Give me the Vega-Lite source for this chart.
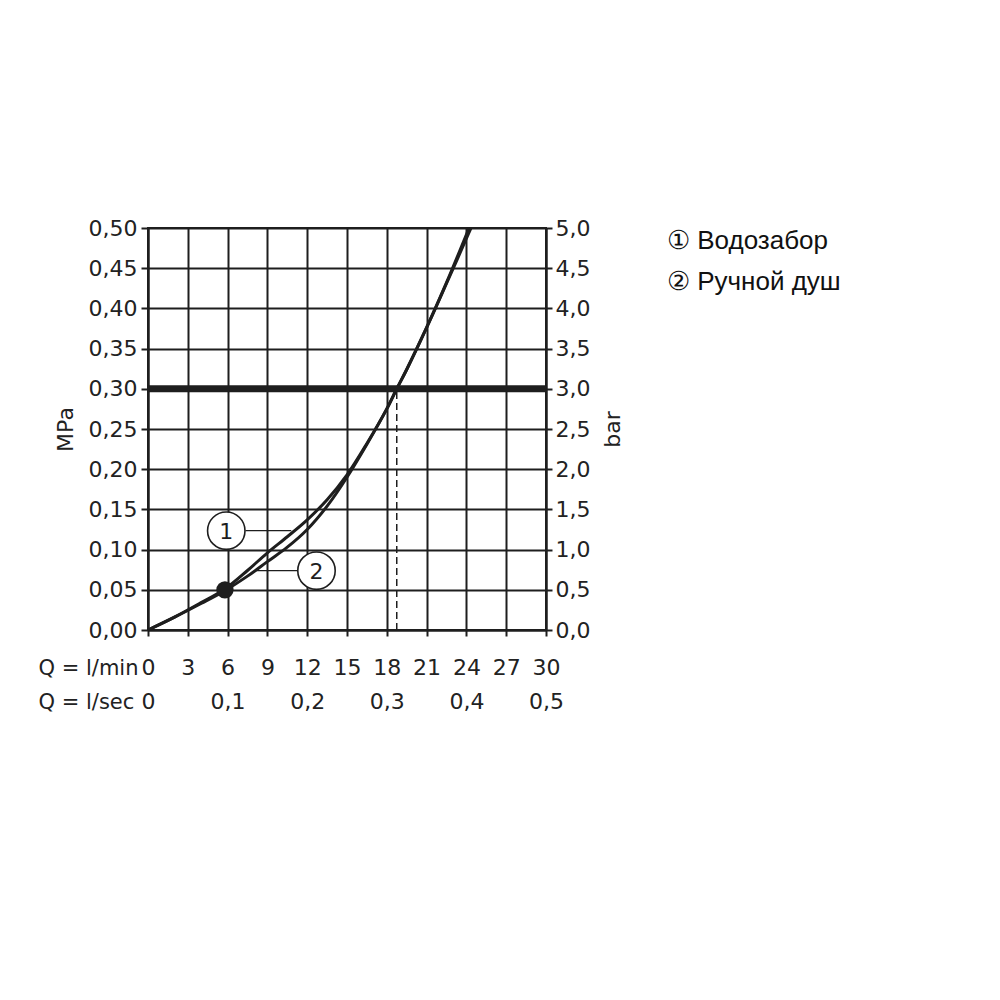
{
  "$schema": "https://vega.github.io/schema/vega-lite/v6.json",
  "width": 398,
  "height": 402,
  "autosize": {"type": "none"},
  "padding": {"left": 148, "top": 228, "right": 454, "bottom": 370},
  "background": "white",
  "config": {
    "view": {"stroke": "#1e1e1e", "strokeWidth": 2},
    "axis": {
      "domainColor": "#1e1e1e", "domainWidth": 2,
      "tickColor": "#1e1e1e", "tickWidth": 2,
      "gridColor": "#1e1e1e", "gridWidth": 2, "gridOpacity": 1,
      "labelFont": "DejaVu Sans", "labelFontSize": 22, "labelColor": "#222",
      "labelOverlap": false, "labelFlush": false,
      "titleFont": "DejaVu Sans", "titleFontSize": 22, "titleFontWeight": "normal", "titleColor": "#222"
    },
    "legend": {"padding": 0}
  },
  "resolve": {"axis": {"y": "independent"}},
  "layer": [
    {
      "layer": [
        {
          "data": {"values": [
            {"q": 0, "p": 0, "series": "① Водозабор"},
            {"q": 2, "p": 0.016, "series": "① Водозабор"},
            {"q": 4, "p": 0.034, "series": "① Водозабор"},
            {"q": 5.8, "p": 0.051, "series": "① Водозабор"},
            {"q": 7.5, "p": 0.074, "series": "① Водозабор"},
            {"q": 9, "p": 0.096, "series": "① Водозабор"},
            {"q": 10.5, "p": 0.116, "series": "① Водозабор"},
            {"q": 12, "p": 0.137, "series": "① Водозабор"},
            {"q": 13.5, "p": 0.162, "series": "① Водозабор"},
            {"q": 15, "p": 0.193, "series": "① Водозабор"},
            {"q": 16.5, "p": 0.232, "series": "① Водозабор"},
            {"q": 18, "p": 0.275, "series": "① Водозабор"},
            {"q": 18.75, "p": 0.3, "series": "① Водозабор"},
            {"q": 19.5, "p": 0.324, "series": "① Водозабор"},
            {"q": 21, "p": 0.376, "series": "① Водозабор"},
            {"q": 22.5, "p": 0.432, "series": "① Водозабор"},
            {"q": 24.2, "p": 0.5, "series": "① Водозабор"},
            {"q": 0, "p": 0, "series": "② Ручной душ"},
            {"q": 2, "p": 0.016, "series": "② Ручной душ"},
            {"q": 4, "p": 0.033, "series": "② Ручной душ"},
            {"q": 5.8, "p": 0.049, "series": "② Ручной душ"},
            {"q": 7.5, "p": 0.067, "series": "② Ручной душ"},
            {"q": 9, "p": 0.085, "series": "② Ручной душ"},
            {"q": 10.5, "p": 0.103, "series": "② Ручной душ"},
            {"q": 12, "p": 0.125, "series": "② Ручной душ"},
            {"q": 13.5, "p": 0.154, "series": "② Ручной душ"},
            {"q": 15, "p": 0.19, "series": "② Ручной душ"},
            {"q": 16.5, "p": 0.231, "series": "② Ручной душ"},
            {"q": 18, "p": 0.275, "series": "② Ручной душ"},
            {"q": 18.75, "p": 0.3, "series": "② Ручной душ"},
            {"q": 19.5, "p": 0.324, "series": "② Ручной душ"},
            {"q": 21, "p": 0.376, "series": "② Ручной душ"},
            {"q": 22.5, "p": 0.431, "series": "② Ручной душ"},
            {"q": 24.35, "p": 0.5, "series": "② Ручной душ"}
          ]},
          "mark": {"type": "line", "interpolate": "catmull-rom", "strokeWidth": 3},
          "encoding": {
            "x": {
              "field": "q", "type": "quantitative",
              "scale": {"domain": [0, 30], "nice": false, "zero": true},
              "axis": {
                "orient": "bottom",
                "values": [0, 3, 6, 9, 12, 15, 18, 21, 24, 27, 30],
                "tickCount": 30,
                "labelExpr": "[format(datum.value, 'd'), datum.value == 0 ? '0' : (datum.value % 6 == 0 ? replace(format(datum.value / 60, '.1f'), '.', ',') : '')]",
                "labelLineHeight": 34,
                "grid": true, "tickSize": 6, "labelPadding": 21,
                "title": ["Q = l/min", "Q = l/sec"], "titleLineHeight": 34, "titleFontSize": 21,
                "titleAngle": 0, "titleAlign": "left",
                "titleBaseline": "top", "titleX": -110, "titleY": 27
              }
            },
            "y": {
              "field": "p", "type": "quantitative",
              "scale": {"domain": [0, 0.5], "nice": false, "zero": true},
              "axis": {
                "orient": "left",
                "values": [0, 0.05, 0.1, 0.15, 0.2, 0.25, 0.3, 0.35, 0.4, 0.45, 0.5],
                "tickCount": 30,
                "labelExpr": "replace(format(datum.value, '.2f'), '.', ',')",
                "grid": true, "tickSize": 7, "labelPadding": 4,
                "title": "MPa", "titleAngle": -90, "titleAlign": "center",
                "titleBaseline": "middle", "titleX": -83, "titleY": 201
              }
            },
            "color": {
              "field": "series", "type": "nominal",
              "scale": {"range": ["#1e1e1e", "#1e1e1e"]},
              "legend": {
                "orient": "none", "legendX": 493, "legendY": 0, "title": null,
                "labelFont": "Liberation Sans", "labelFontSize": 26, "labelColor": "#111",
                "labelLimit": 400,
                "symbolSize": 0, "symbolOpacity": 0, "symbolStrokeWidth": 0,
                "labelOffset": 0, "rowPadding": 15
              }
            }
          }
        },
        {
          "data": {"values": [{"p": 0.3}]},
          "mark": {"type": "rule", "strokeWidth": 7, "color": "#1e1e1e"},
          "encoding": {"y": {"field": "p", "type": "quantitative"}}
        },
        {
          "data": {"values": [{"q": 18.75, "p0": 0, "p": 0.3}]},
          "mark": {"type": "rule", "strokeWidth": 1.5, "strokeDash": [7, 4], "color": "#1e1e1e"},
          "encoding": {
            "x": {"field": "q", "type": "quantitative"},
            "y": {"field": "p0", "type": "quantitative"},
            "y2": {"field": "p"}
          }
        },
        {
          "data": {"values": [{"q": 5.8, "p": 0.05}]},
          "mark": {"type": "point", "filled": true, "size": 300, "opacity": 1, "color": "#1e1e1e"},
          "encoding": {
            "x": {"field": "q", "type": "quantitative"},
            "y": {"field": "p", "type": "quantitative"}
          }
        },
        {
          "data": {"values": [
            {"n": "1", "q": 5.9, "p": 0.1235, "q1": 7.35, "q2": 10.8},
            {"n": "2", "q": 12.7, "p": 0.0738, "q1": 8.1, "q2": 11.27}
          ]},
          "layer": [
            {
              "mark": {"type": "rule", "strokeWidth": 1.3, "color": "#1e1e1e"},
              "encoding": {
                "x": {"field": "q1", "type": "quantitative"},
                "x2": {"field": "q2"},
                "y": {"field": "p", "type": "quantitative"}
              }
            },
            {
              "mark": {"type": "point", "shape": "circle", "filled": true, "fill": "white", "stroke": "#1e1e1e", "strokeWidth": 1.6, "size": 1400, "opacity": 1},
              "encoding": {
                "x": {"field": "q", "type": "quantitative"},
                "y": {"field": "p", "type": "quantitative"}
              }
            },
            {
              "mark": {"type": "text", "font": "DejaVu Sans", "fontSize": 22, "color": "#1e1e1e", "align": "center", "baseline": "middle", "dy": 1},
              "encoding": {
                "x": {"field": "q", "type": "quantitative"},
                "y": {"field": "p", "type": "quantitative"},
                "text": {"field": "n"}
              }
            }
          ]
        }
      ]
    },
    {
      "data": {"values": [{"p": 0}]},
      "mark": {"type": "point", "opacity": 0},
      "encoding": {
        "y": {
          "field": "p", "type": "quantitative",
          "axis": {
            "orient": "right",
            "values": [0, 0.05, 0.1, 0.15, 0.2, 0.25, 0.3, 0.35, 0.4, 0.45, 0.5],
            "tickCount": 30,
            "labelExpr": "replace(format(datum.value * 10, '.1f'), '.', ',')",
            "grid": false, "tickSize": 6, "labelPadding": 3, "domain": true,
            "title": "bar", "titleAngle": -90, "titleAlign": "center",
            "titleBaseline": "middle", "titleX": 66, "titleY": 201
          }
        }
      }
    }
  ]
}
